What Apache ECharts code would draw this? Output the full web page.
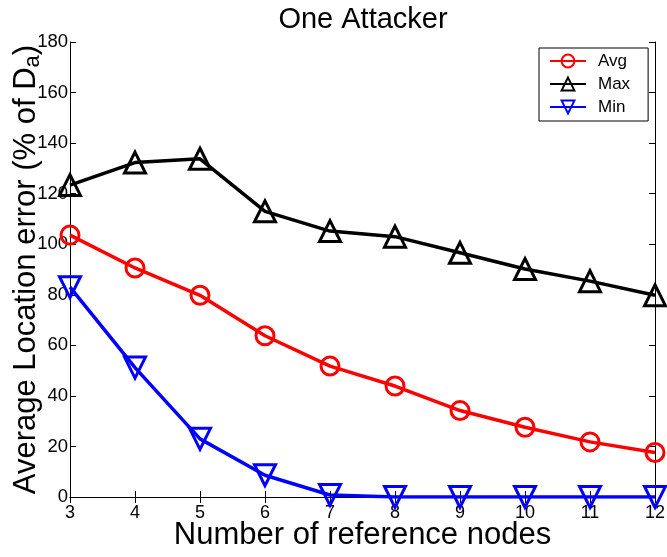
<!DOCTYPE html>
<html><head><meta charset="utf-8">
<script src="https://cdn.jsdelivr.net/npm/echarts@6/dist/echarts.min.js"></script>
<style>html,body{margin:0;padding:0;background:#fff}#c{width:667px;height:557px}</style>
</head><body><div id="c"></div>
<script>
const categories = [3, 4, 5, 6, 7, 8, 9, 10, 11, 12];
const avgValues = [103.6, 90.6, 79.8, 63.8, 51.8, 43.9, 34.2, 27.6, 21.8, 17.6];
const maxValues = [123.4, 132.3, 133.8, 113.0, 105.2, 103.0, 96.6, 90.2, 85.4, 79.8];
const minValues = [83.0, 51.2, 23.0, 8.6, 0.8, 0, 0, 0, 0, 0];
const yTicks = [0, 20, 40, 60, 80, 100, 120, 140, 160, 180];

const font = 'Liberation Sans, Arial, sans-serif';
const chart = echarts.init(document.getElementById('c'), null, {renderer: 'canvas'});
function mk(data){ return categories.map((x,i)=>[x,data[i]]); }
function series(name, data, color, symbol, rotate, size){
  return {
    name, type:'line', data: mk(data), symbol, symbolSize: size, symbolRotate: rotate,
    lineStyle:{color, width:3.5}, itemStyle:{color:'rgba(255,255,255,0)', borderColor: color, borderWidth:3},
    emphasis:{disabled:true}, z: 3
  };
}
chart.setOption({
  animation:false,
  textStyle:{fontFamily:font},
  graphic:[{type:'text', x:363, y:20, z:10,
    style:{text:'One Attacker', fontFamily:font, fontSize:29, fill:'#000', align:'center', verticalAlign:'middle'}}],
  grid:{left:70, right:12, top:42, bottom:60, containLabel:false, outerBoundsMode:'none'},
  legend:{
    left:539, top:48, orient:'vertical', itemWidth:36, itemHeight:16, itemGap:3,
    backgroundColor:'#fff', borderColor:'#000', borderWidth:1, padding:[3,18,4,10],
    textStyle:{fontFamily:font, fontSize:17, color:'#000', lineHeight:20, padding:[0,0,0,7]},
    data:['Avg','Max','Min']
  },
  xAxis:[{
    type:'value', min:3, max:12, interval:1,
    name:'Number of reference nodes', nameLocation:'middle', nameGap:23, nameMoveOverlap:false,
    nameTextStyle:{fontFamily:font, fontSize:31, color:'#000'},
    axisLine:{lineStyle:{color:'#000', width:1}},
    axisTick:{inside:true, length:6, lineStyle:{color:'#000'}},
    axisLabel:{fontFamily:font, fontSize:18, color:'#000', margin:7},
    splitLine:{show:false}
  },{
    type:'value', min:3, max:12, interval:1, position:'top',
    axisLine:{lineStyle:{color:'#000', width:1}},
    axisTick:{inside:true, length:6, lineStyle:{color:'#000'}},
    axisLabel:{show:false}, splitLine:{show:false}
  }],
  yAxis:[{
    type:'value', min:0, max:180, interval:20,
    name:'Average Location error (% of D{sub|a})', nameLocation:'middle', nameGap:26, nameRotate:90, nameMoveOverlap:false,
    nameTextStyle:{fontFamily:font, fontSize:31, color:'#000',
      rich:{sub:{fontFamily:font, fontSize:22, color:'#000', padding:[14,0,0,0]}}},
    axisLine:{lineStyle:{color:'#000', width:1}},
    axisTick:{inside:true, length:6, lineStyle:{color:'#000'}},
    axisLabel:{fontFamily:font, fontSize:18.5, color:'#000', margin:2,
      formatter: v => yTicks.includes(v) ? String(v) : ''},
    splitLine:{show:false}
  },{
    type:'value', min:0, max:180, interval:20, position:'right',
    axisLine:{show:true, lineStyle:{color:'#000', width:1}},
    axisTick:{show:true, inside:true, length:6, lineStyle:{color:'#000'}},
    axisLabel:{show:false}, splitLine:{show:false}
  }],
  series:[
    series('Avg', avgValues, '#ff0000', 'circle', 0, 18),
    series('Max', maxValues, '#000000', 'triangle', 0, 21),
    series('Min', minValues, '#0000ff', 'triangle', 180, 21)
  ]
});
</script></body></html>
